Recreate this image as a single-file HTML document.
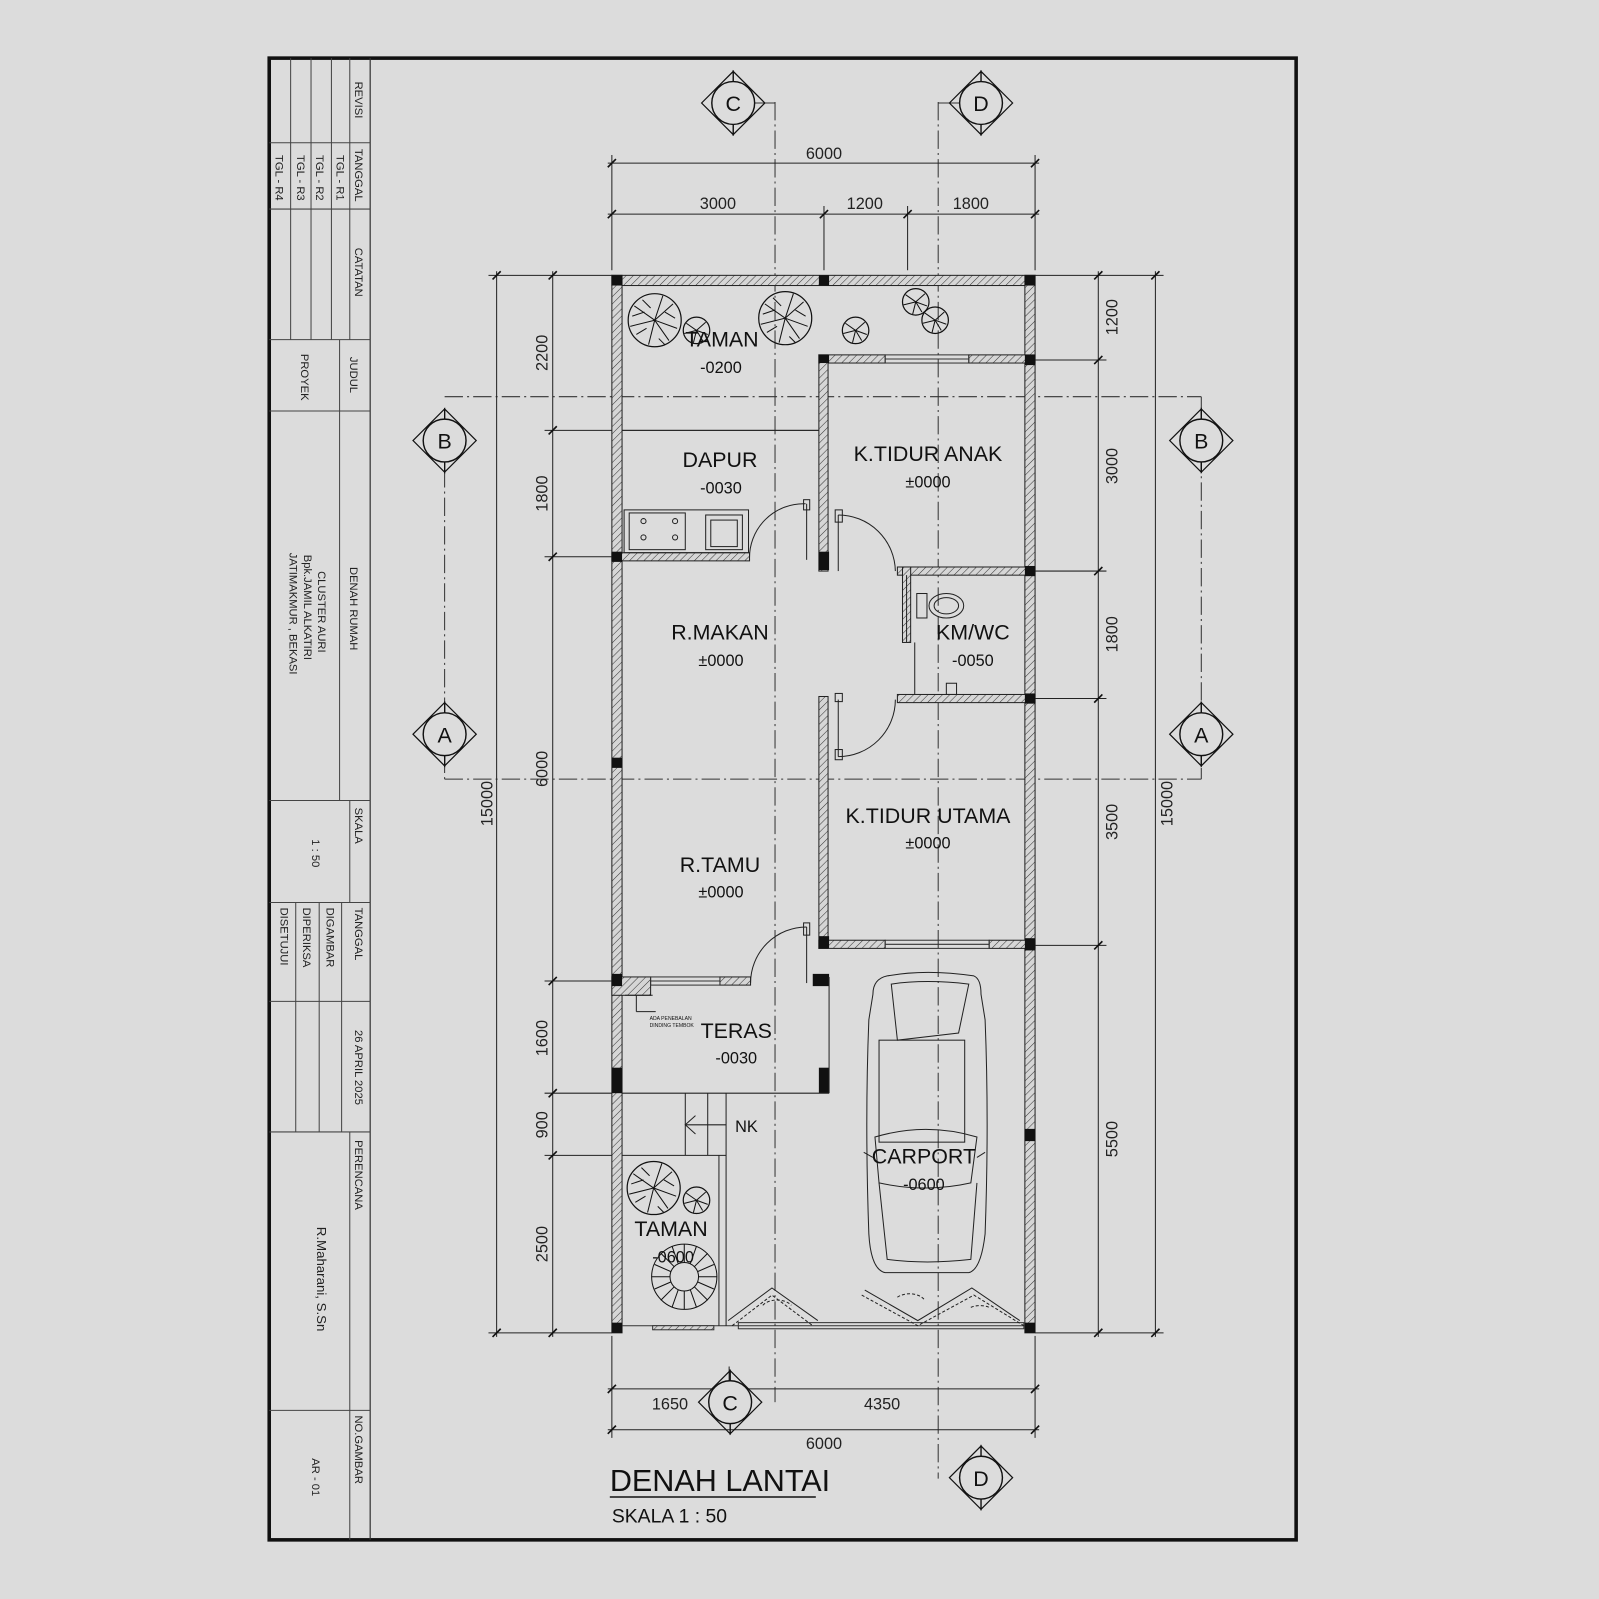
<!DOCTYPE html>
<html><head><meta charset="utf-8"><style>
html,body{margin:0;padding:0;background:#dcdcdc;}
svg{display:block;font-family:"Liberation Sans",Arial,sans-serif;}
</style></head><body>
<svg width="1599" height="1599" viewBox="0 0 1568 1568" xmlns="http://www.w3.org/2000/svg">
<defs>
<pattern id="h" width="5" height="5" patternUnits="userSpaceOnUse" patternTransform="rotate(45)">
<rect width="5" height="5" fill="#d6d6d6"/><line x1="0" y1="0" x2="0" y2="5" stroke="#333" stroke-width="1"/>
</pattern>
<g id="tree">
<circle r="26" fill="none" stroke="#111" stroke-width="1.2"/>
<g stroke="#111" stroke-width="1">
<line x1="0" y1="0" x2="-20" y2="-14"/><line x1="0" y1="0" x2="18" y2="-16"/><line x1="0" y1="0" x2="22" y2="8"/><line x1="0" y1="0" x2="-6" y2="24"/><line x1="0" y1="0" x2="-24" y2="6"/><line x1="0" y1="0" x2="8" y2="-24"/><line x1="0" y1="0" x2="14" y2="20"/>
<line x1="-22" y1="-4" x2="-10" y2="-8"/><line x1="-18" y1="14" x2="-8" y2="8"/><line x1="20" y1="-2" x2="10" y2="-8"/><line x1="4" y1="18" x2="10" y2="24"/><line x1="-12" y1="-20" x2="-4" y2="-12"/>
</g>
</g>
<g id="stree">
<circle r="13" fill="none" stroke="#111" stroke-width="1.2"/>
<g stroke="#111" stroke-width="1"><line x1="0" y1="0" x2="-10" y2="-7"/><line x1="0" y1="0" x2="9" y2="-8"/><line x1="0" y1="0" x2="11" y2="4"/><line x1="0" y1="0" x2="-3" y2="12"/><line x1="0" y1="0" x2="-12" y2="3"/><line x1="0" y1="0" x2="6" y2="10"/></g>
</g>
<g id="mark">
<polygon points="-31,0 0,-31 0,31" fill="none" stroke="#111" stroke-width="1.2"/>
<polygon points="31,0 0,-31 0,31" fill="none" stroke="#111" stroke-width="1.2"/>
<circle r="21" fill="#dcdcdc" stroke="#111" stroke-width="1.4"/>
</g>
</defs>

<!-- frame -->
<rect x="264" y="57" width="1007" height="1453" fill="none" stroke="#111" stroke-width="3.5"/>
<line x1="363" y1="57" x2="363" y2="1510" stroke="#333" stroke-width="1.2"/>
<g stroke="#444" stroke-width="1" fill="none">
<line x1="264" y1="140" x2="363" y2="140"/><line x1="264" y1="205" x2="363" y2="205"/><line x1="264" y1="333" x2="363" y2="333"/>
<line x1="264" y1="403" x2="363" y2="403"/><line x1="264" y1="785" x2="363" y2="785"/><line x1="264" y1="885" x2="363" y2="885"/>
<line x1="264" y1="982" x2="363" y2="982"/><line x1="264" y1="1110" x2="363" y2="1110"/><line x1="264" y1="1383" x2="363" y2="1383"/>
<line x1="343" y1="57" x2="343" y2="333"/><line x1="325" y1="57" x2="325" y2="333"/><line x1="305" y1="57" x2="305" y2="333"/><line x1="285" y1="57" x2="285" y2="333"/>
<line x1="333" y1="333" x2="333" y2="785"/>
<line x1="343" y1="785" x2="343" y2="885"/>
<line x1="335" y1="885" x2="335" y2="1110"/><line x1="313" y1="885" x2="313" y2="1110"/><line x1="290" y1="885" x2="290" y2="1110"/>
<line x1="343" y1="1110" x2="343" y2="1383"/><line x1="343" y1="1383" x2="343" y2="1510"/>
</g>
<g font-size="11" fill="#222">
<text transform="translate(348,80) rotate(90)">REVISI</text>
<text transform="translate(348,146) rotate(90)">TANGGAL</text>
<text transform="translate(330,152) rotate(90)">TGL - R1</text>
<text transform="translate(310,152) rotate(90)">TGL - R2</text>
<text transform="translate(291,152) rotate(90)">TGL - R3</text>
<text transform="translate(270,152) rotate(90)">TGL - R4</text>
<text transform="translate(348,243) rotate(90)">CATATAN</text>
<text transform="translate(343,350) rotate(90)">JUDUL</text>
<text transform="translate(295,347) rotate(90)">PROYEK</text>
<text transform="translate(343,556) rotate(90)">DENAH RUMAH</text>
<text transform="translate(312,560) rotate(90)">CLUSTER AURI</text>
<text transform="translate(298,544) rotate(90)">Bpk.JAMIL ALKATIRI</text>
<text transform="translate(284,542) rotate(90)">JATIMAKMUR , BEKASI</text>
<text transform="translate(348,792) rotate(90)">SKALA</text>
<text transform="translate(306,823) rotate(90)">1 : 50</text>
<text transform="translate(348,890) rotate(90)">TANGGAL</text>
<text transform="translate(320,890) rotate(90)">DIGAMBAR</text>
<text transform="translate(297,890) rotate(90)">DIPERIKSA</text>
<text transform="translate(275,890) rotate(90)">DISETUJUI</text>
<text transform="translate(348,1010) rotate(90)">26 APRIL 2025</text>
<text transform="translate(348,1118) rotate(90)">PERENCANA</text>
<text transform="translate(311,1203) rotate(90)" font-size="13">R.Maharani, S.Sn</text>
<text transform="translate(348,1388) rotate(90)">NO.GAMBAR</text>
<text transform="translate(306,1430) rotate(90)">AR - 01</text>
</g>

<!-- grid dash-dot lines -->
<g stroke="#333" stroke-width="1" stroke-dasharray="18,4,2,4" fill="none">
<line x1="760" y1="100" x2="760" y2="1375"/>
<line x1="920" y1="100" x2="920" y2="1450"/>
<line x1="436" y1="389" x2="1178" y2="389"/>
<line x1="436" y1="764" x2="1178" y2="764"/>
<line x1="436" y1="432" x2="436" y2="764"/>
<line x1="1178" y1="389" x2="1178" y2="764"/>
</g>
<line x1="740" y1="101" x2="760" y2="101" stroke="#333"/>
<line x1="941" y1="101" x2="920" y2="101" stroke="#333"/>

<!-- dimension lines -->
<g stroke="#222" stroke-width="1" fill="none">
<line x1="596" y1="160" x2="1019" y2="160"/>
<line x1="596" y1="210" x2="1019" y2="210"/>
<line x1="600" y1="152" x2="600" y2="265"/><line x1="1015" y1="152" x2="1015" y2="265"/>
<line x1="808" y1="202" x2="808" y2="265"/><line x1="890" y1="202" x2="890" y2="265"/>
<line x1="487" y1="266" x2="487" y2="1311"/>
<line x1="542" y1="266" x2="542" y2="1311"/>
<line x1="479" y1="270" x2="600" y2="270"/><line x1="479" y1="1307" x2="600" y2="1307"/>
<line x1="534" y1="422" x2="803" y2="422"/><line x1="534" y1="546" x2="600" y2="546"/>
<line x1="534" y1="962" x2="600" y2="962"/><line x1="534" y1="1072" x2="600" y2="1072"/><line x1="534" y1="1133" x2="600" y2="1133"/>
<line x1="1077" y1="266" x2="1077" y2="1311"/>
<line x1="1133" y1="266" x2="1133" y2="1311"/>
<line x1="1015" y1="270" x2="1141" y2="270"/><line x1="1015" y1="1307" x2="1141" y2="1307"/>
<line x1="1015" y1="353" x2="1085" y2="353"/><line x1="1015" y1="560" x2="1085" y2="560"/>
<line x1="1015" y1="685" x2="1085" y2="685"/><line x1="1015" y1="927" x2="1085" y2="927"/>
<line x1="596" y1="1362" x2="1019" y2="1362"/>
<line x1="596" y1="1402" x2="1019" y2="1402"/>
<line x1="600" y1="1310" x2="600" y2="1410"/><line x1="1015" y1="1310" x2="1015" y2="1410"/>
<line x1="715" y1="1340" x2="715" y2="1370"/>
</g>
<g stroke="#111" stroke-width="1.6">
<line x1="596" y1="164" x2="604" y2="156"/><line x1="1011" y1="164" x2="1019" y2="156"/>
<line x1="596" y1="214" x2="604" y2="206"/><line x1="804" y1="214" x2="812" y2="206"/><line x1="886" y1="214" x2="894" y2="206"/><line x1="1011" y1="214" x2="1019" y2="206"/>
<line x1="483" y1="274" x2="491" y2="266"/><line x1="483" y1="1311" x2="491" y2="1303"/>
<line x1="538" y1="274" x2="546" y2="266"/><line x1="538" y1="426" x2="546" y2="418"/><line x1="538" y1="550" x2="546" y2="542"/><line x1="538" y1="966" x2="546" y2="958"/><line x1="538" y1="1076" x2="546" y2="1068"/><line x1="538" y1="1137" x2="546" y2="1129"/><line x1="538" y1="1311" x2="546" y2="1303"/>
<line x1="1073" y1="274" x2="1081" y2="266"/><line x1="1073" y1="357" x2="1081" y2="349"/><line x1="1073" y1="564" x2="1081" y2="556"/><line x1="1073" y1="689" x2="1081" y2="681"/><line x1="1073" y1="931" x2="1081" y2="923"/><line x1="1073" y1="1311" x2="1081" y2="1303"/>
<line x1="1129" y1="274" x2="1137" y2="266"/><line x1="1129" y1="1311" x2="1137" y2="1303"/>
<line x1="596" y1="1366" x2="604" y2="1358"/><line x1="711" y1="1366" x2="719" y2="1358"/><line x1="1011" y1="1366" x2="1019" y2="1358"/>
<line x1="596" y1="1406" x2="604" y2="1398"/><line x1="1011" y1="1406" x2="1019" y2="1398"/>
</g>
<g font-size="16" fill="#222" text-anchor="middle">
<text x="808" y="156">6000</text>
<text x="704" y="205">3000</text><text x="848" y="205">1200</text><text x="952" y="205">1800</text>
<text transform="translate(483,788) rotate(-90)">15000</text>
<text transform="translate(537,346) rotate(-90)">2200</text>
<text transform="translate(537,484) rotate(-90)">1800</text>
<text transform="translate(537,754) rotate(-90)">6000</text>
<text transform="translate(537,1018) rotate(-90)">1600</text>
<text transform="translate(537,1103) rotate(-90)">900</text>
<text transform="translate(537,1220) rotate(-90)">2500</text>
<text transform="translate(1096,311) rotate(-90)">1200</text>
<text transform="translate(1096,457) rotate(-90)">3000</text>
<text transform="translate(1096,622) rotate(-90)">1800</text>
<text transform="translate(1096,806) rotate(-90)">3500</text>
<text transform="translate(1096,1117) rotate(-90)">5500</text>
<text transform="translate(1150,788) rotate(-90)">15000</text>
<text x="657" y="1382">1650</text><text x="865" y="1382">4350</text>
<text x="808" y="1421">6000</text>
</g>

<!-- walls -->
<g stroke="#222" stroke-width="1" fill="url(#h)">
<rect x="600" y="270" width="415" height="10"/>
<rect x="600" y="270" width="10" height="1037"/>
<rect x="1005" y="270" width="10" height="1037"/>
<rect x="803" y="348" width="65" height="8"/><rect x="950" y="348" width="65" height="8"/>
<rect x="803" y="348" width="9" height="212"/>
<rect x="600" y="542" width="135" height="8"/>
<rect x="880" y="556" width="135" height="8"/>
<rect x="885" y="556" width="8" height="74"/>
<rect x="880" y="681" width="135" height="8"/>
<rect x="803" y="683" width="9" height="247"/>
<rect x="803" y="922" width="65" height="8"/><rect x="970" y="922" width="45" height="8"/>
<rect x="600" y="958" width="38" height="18"/><rect x="706" y="958" width="30" height="8"/>
<rect x="803" y="958" width="9" height="8"/>
</g>
<g fill="none" stroke="#333" stroke-width="1">
<rect x="868" y="348" width="82" height="8"/><line x1="868" y1="352" x2="950" y2="352"/>
<rect x="868" y="922" width="102" height="8"/><line x1="868" y1="926" x2="970" y2="926"/>
<rect x="638" y="958" width="68" height="8"/><line x1="638" y1="962" x2="706" y2="962"/>
<line x1="1015" y1="1300" x2="600" y2="1300"/>
<rect x="724" y="1297" width="280" height="6"/>
<rect x="640" y="1300" width="60" height="4" fill="url(#h)"/>
</g>
<g fill="#111">
<rect x="600" y="270" width="10" height="10"/><rect x="803" y="270" width="10" height="10"/><rect x="1005" y="270" width="10" height="10"/>
<rect x="803" y="348" width="10" height="8"/><rect x="1005" y="348" width="10" height="10"/>
<rect x="600" y="541" width="10" height="10"/><rect x="803" y="541" width="10" height="18"/>
<rect x="1005" y="555" width="10" height="10"/><rect x="1005" y="680" width="10" height="10"/>
<rect x="600" y="743" width="10" height="10"/>
<rect x="803" y="918" width="10" height="12"/><rect x="1005" y="920" width="10" height="12"/>
<rect x="600" y="955" width="10" height="12"/><rect x="797" y="955" width="16" height="12"/>
<rect x="600" y="1047" width="10" height="25"/><rect x="803" y="1047" width="10" height="25"/>
<rect x="1005" y="1107" width="10" height="12"/>
<rect x="600" y="1297" width="10" height="10"/><rect x="1005" y="1297" width="10" height="10"/>
</g>

<!-- interior lines -->
<g fill="none" stroke="#222" stroke-width="1">
<line x1="610" y1="422" x2="803" y2="422"/>
<line x1="813" y1="958" x2="813" y2="1072"/>
<line x1="610" y1="1072" x2="813" y2="1072"/>
<line x1="672" y1="1072" x2="672" y2="1133"/><line x1="694" y1="1072" x2="694" y2="1133"/><line x1="712" y1="1072" x2="712" y2="1300"/>
<line x1="672" y1="1103" x2="712" y2="1103"/>
<polyline points="682,1094 672,1103 682,1112"/>
<line x1="610" y1="1133" x2="712" y2="1133"/><line x1="705" y1="1133" x2="705" y2="1300"/>
<line x1="897" y1="630" x2="897" y2="681"/>
<!-- kitchen counter -->
<rect x="612" y="500" width="122" height="42"/>
<rect x="617" y="503" width="55" height="36"/>
<circle cx="631" cy="511" r="2.5"/><circle cx="662" cy="511" r="2.5"/><circle cx="631" cy="527" r="2.5"/><circle cx="662" cy="527" r="2.5"/>
<rect x="692" y="505" width="36" height="34"/><rect x="697" y="510" width="26" height="26"/>
<!-- doors -->
<path d="M735,549 A53,53 0 0 1 790,494"/><rect x="788" y="490" width="6" height="10"/><line x1="791" y1="494" x2="791" y2="549"/>
<path d="M822,505 A56,56 0 0 1 878,560"/><line x1="822" y1="505" x2="822" y2="560"/><rect x="819" y="500" width="7" height="12"/>
<path d="M822,742 A56,56 0 0 0 878,686"/><line x1="822" y1="686" x2="822" y2="742"/><rect x="819" y="735" width="7" height="10"/><rect x="819" y="680" width="7" height="8"/>
<path d="M736,964 A55,55 0 0 1 791,909"/><line x1="791" y1="909" x2="791" y2="964"/><rect x="788" y="905" width="6" height="12"/>
<line x1="889" y1="564" x2="889" y2="630"/>
<!-- toilet -->
<rect x="899" y="582" width="10" height="24"/><ellipse cx="928" cy="594" rx="17" ry="12"/><ellipse cx="928" cy="594" rx="12" ry="8"/>
<rect x="928" y="670" width="10" height="11"/>
<!-- small note -->
<line x1="613" y1="976" x2="640" y2="976"/><line x1="624" y1="976" x2="624" y2="992"/><line x1="624" y1="992" x2="643" y2="992"/>
<!-- carport gates -->
<polyline points="714,1295 757,1263 802,1295"/>
<polyline points="718,1300 757,1270 797,1300" stroke-dasharray="3,2"/>
<polyline points="848,1265 900,1295 953,1263 1000,1295"/>
<polyline points="845,1270 900,1300 955,1270 1004,1300" stroke-dasharray="3,2"/>
<path d="M748,1280 a16,10 0 0 1 28,0" stroke-dasharray="3,2"/>
<path d="M880,1272 a16,10 0 0 1 26,2" stroke-dasharray="3,2"/>
<path d="M952,1282 a16,10 0 0 1 18,0" stroke-dasharray="3,2"/>
<!-- car -->
<path d="M870,957 Q908,950 955,957 Q962,960 962,975 L966,1000 Q970,1100 966,1210 Q962,1245 950,1248 L868,1248 Q854,1245 852,1210 Q848,1100 852,1000 L856,975 Q856,960 870,957 Z"/>
<path d="M874,965 Q908,960 950,965 L940,1013 L880,1020 Z"/>
<rect x="862" y="1020" width="84" height="100"/>
<path d="M858,1115 Q908,1100 958,1115 L952,1160 Q908,1170 862,1160 Z"/>
<path d="M862,1160 L870,1235 Q908,1240 952,1235 L958,1160"/>
<line x1="847" y1="1130" x2="856" y2="1135"/><line x1="966" y1="1130" x2="958" y2="1135"/>
</g>

<!-- trees -->
<use href="#tree" x="642" y="314"/>
<use href="#tree" x="770" y="312"/>
<use href="#stree" x="683" y="324"/>
<use href="#stree" x="839" y="324"/>
<use href="#stree" x="898" y="296"/>
<use href="#stree" x="917" y="314"/>
<use href="#tree" x="641" y="1165"/>
<use href="#stree" x="683" y="1177"/>
<g stroke="#111" stroke-width="1" fill="none">
<circle cx="671" cy="1252" r="32"/>
<circle cx="671" cy="1252" r="14"/>
<path d="M671,1220 L671,1238 M694,1229 L681,1242 M703,1252 L685,1252 M694,1275 L681,1262 M671,1284 L671,1266 M648,1275 L661,1262 M639,1252 L657,1252 M648,1229 L661,1242 M683,1222 L677,1239 M700,1240 L684,1247 M700,1264 L684,1257 M683,1282 L677,1265 M659,1282 L665,1265 M642,1264 L658,1257 M642,1240 L658,1247 M659,1222 L665,1239"/>
</g>

<!-- room labels -->
<g font-size="21" fill="#111" text-anchor="middle">
<text x="708" y="340">TAMAN</text>
<text x="706" y="458">DAPUR</text>
<text x="910" y="452">K.TIDUR ANAK</text>
<text x="706" y="627">R.MAKAN</text>
<text x="954" y="627">KM/WC</text>
<text x="910" y="807">K.TIDUR UTAMA</text>
<text x="706" y="855">R.TAMU</text>
<text x="722" y="1018">TERAS</text>
<text x="906" y="1141">CARPORT</text>
<text x="658" y="1212">TAMAN</text>
</g>
<g font-size="16" fill="#111" text-anchor="middle">
<text x="707" y="366">-0200</text>
<text x="707" y="484">-0030</text>
<text x="910" y="478">±0000</text>
<text x="707" y="653">±0000</text>
<text x="954" y="653">-0050</text>
<text x="910" y="832">±0000</text>
<text x="707" y="880">±0000</text>
<text x="722" y="1043">-0030</text>
<text x="906" y="1167">-0600</text>
<text x="660" y="1238">-0600</text>
<text x="732" y="1110">NK</text>
</g>
<text x="637" y="1000" font-size="5" fill="#111">ADA PENEBALAN</text>
<text x="637" y="1007" font-size="5" fill="#111">DINDING TEMBOK</text>

<!-- section markers -->
<use href="#mark" x="719" y="101"/><use href="#mark" x="962" y="101"/>
<use href="#mark" x="436" y="432"/><use href="#mark" x="1178" y="432"/>
<use href="#mark" x="436" y="720"/><use href="#mark" x="1178" y="720"/>
<use href="#mark" x="716" y="1375"/><use href="#mark" x="962" y="1449"/>
<g font-size="21" fill="#111" text-anchor="middle">
<text x="719" y="109">C</text><text x="962" y="109">D</text>
<text x="436" y="440">B</text><text x="1178" y="440">B</text>
<text x="436" y="728">A</text><text x="1178" y="728">A</text>
<text x="716" y="1383">C</text><text x="962" y="1457">D</text>
</g>

<!-- title -->
<text x="598" y="1462" font-size="30" fill="#111">DENAH LANTAI</text>
<line x1="598" y1="1468" x2="800" y2="1468" stroke="#111" stroke-width="1.5"/>
<text x="600" y="1493" font-size="19" fill="#111">SKALA   1 : 50</text>
</svg>
</body></html>
